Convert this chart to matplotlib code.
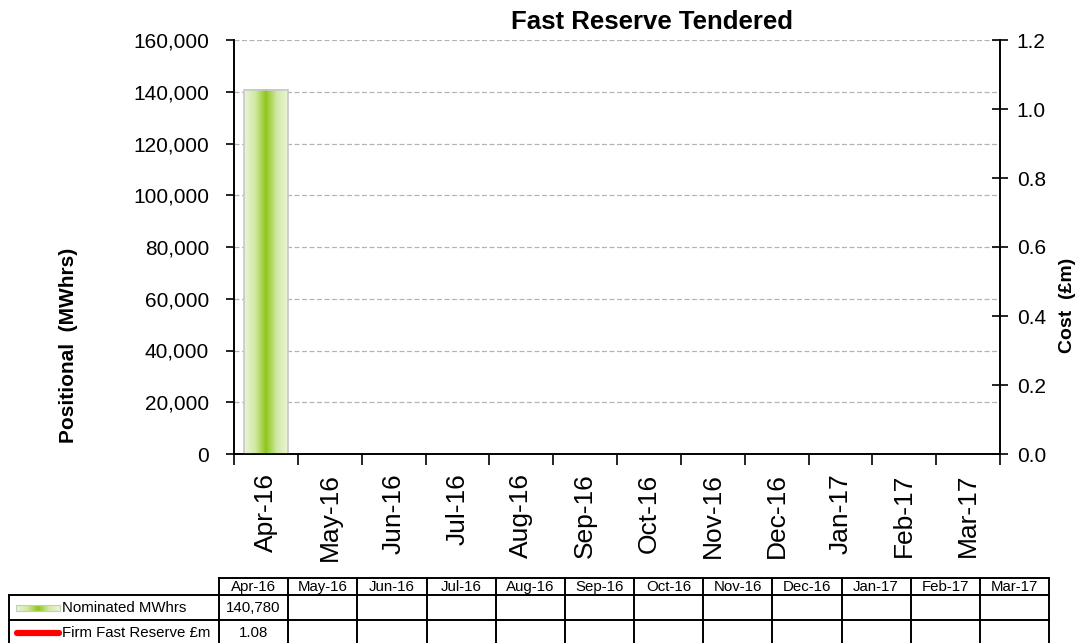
import matplotlib.pyplot as plt
import numpy as np
from matplotlib.colors import LinearSegmentedColormap
from matplotlib.ticker import FuncFormatter

plt.rcParams['font.family'] = ['Liberation Sans', 'DejaVu Sans']

# data
months = ['Apr-16', 'May-16', 'Jun-16', 'Jul-16', 'Aug-16', 'Sep-16',
          'Oct-16', 'Nov-16', 'Dec-16', 'Jan-17', 'Feb-17', 'Mar-17']
nominated = [140780] + [None] * 11
firm_cost = [1.08] + [None] * 11
row_names = ['Nominated MWhrs', 'Firm Fast Reserve £m']

W, H = 1076, 643
fig = plt.figure(figsize=(W / 100, H / 100), dpi=100)
ax = fig.add_axes([234 / W, 1 - 454 / H, (1000 - 234) / W, (454 - 40) / H])
ax2 = ax.twinx()

green = LinearSegmentedColormap.from_list(
    'g', ['#ebf5d6', '#d2e9a6', '#8fc61a', '#d2e9a6', '#ebf5d6'])
grad = np.linspace(0, 1, 200).reshape(1, -1)
bw = 0.68
x = np.arange(len(months))
for i, v in enumerate(nominated):
    if v is None:
        continue
    ax.imshow(grad, cmap=green, aspect='auto', zorder=2,
              extent=[i - bw / 2, i + bw / 2, 0, v], interpolation='bilinear')
    ax.bar(i, v, width=bw, facecolor='none', edgecolor='#c8c8c8',
           linewidth=1.2, zorder=3)

# only one month has a cost, so the line shows nothing (as in the original)
cost = np.array([np.nan if c is None else c for c in firm_cost])
ax2.plot(x, cost, color='red', linewidth=3)

ax.set_xlim(-0.5, len(months) - 0.5)
ax.set_ylim(0, 160000)
ax.set_yticks(np.arange(0, 160001, 20000))
ax.yaxis.set_major_formatter(FuncFormatter(lambda v, p: f'{int(v):,}'))
ax2.set_ylim(0, 1.2)
ax2.set_yticks(np.arange(0, 1.21, 0.2))
ax2.yaxis.set_major_formatter(FuncFormatter(lambda v, p: f'{v:.1f}'))

ax.set_xticks(x)
ax.set_xticklabels(months, rotation=90, fontsize=19)
ax.set_xticks(np.arange(-0.5, len(months), 1), minor=True)
ax.tick_params(axis='x', which='major', length=0, pad=14)
ax.tick_params(axis='x', which='minor', length=8, width=1.2, direction='out')
ax.tick_params(axis='y', length=6, width=1.2, direction='out', labelsize=15, pad=12)
ax2.tick_params(axis='y', length=12, width=1.2, direction='inout', labelsize=15, pad=6)

ax.set_axisbelow(True)
ax.grid(axis='y', color='#b4b4b4', linestyle=(0, (4, 2)), linewidth=0.9)
for a in (ax, ax2):
    a.spines['top'].set_visible(False)
    for s in ('left', 'right', 'bottom'):
        a.spines[s].set_linewidth(1.2)

fig.text(69 / W, 1 - 345 / H, 'Positional  (MWhrs)', rotation=90, fontsize=15,
         fontweight='bold', ha='center', va='center')
fig.text(1067 / W, 1 - 305 / H, 'Cost  (£m)', rotation=90, fontsize=14,
         fontweight='bold', ha='center', va='center')
fig.text(652 / W, 1 - 22 / H, 'Fast Reserve Tendered', fontsize=18.5,
         fontweight='bold', ha='center', va='center')

# data table under the chart
tab = fig.add_axes([0, 0, 1, 1], zorder=-1)
tab.set_xlim(0, W)
tab.set_ylim(H, 0)
tab.axis('off')
x0, cw, lx = 219, (1049 - 219) / 12, 9
rows_y = [578, 595, 620, 646]
lw = 1.4
fs = 10.8
tab.plot([x0, 1049], [rows_y[0]] * 2, color='black', lw=lw)
for yy in rows_y[1:]:
    tab.plot([lx, 1049], [yy] * 2, color='black', lw=lw)
tab.plot([lx, lx], [rows_y[1], rows_y[3]], color='black', lw=lw)
for j in range(13):
    tab.plot([x0 + j * cw] * 2, [rows_y[0], rows_y[3]], color='black', lw=lw)
ry0 = 587
ry1 = 608
ry2 = 633
for j, m in enumerate(months):
    cx = x0 + (j + 0.5) * cw
    tab.text(cx, ry0, m, ha='center', va='center', fontsize=fs)
    if nominated[j] is not None:
        tab.text(cx, ry1, f'{nominated[j]:,}', ha='center', va='center', fontsize=fs)
    if firm_cost[j] is not None:
        tab.text(cx, ry2, f'{firm_cost[j]:.2f}', ha='center', va='center', fontsize=fs)
sw = np.linspace(0, 1, 100).reshape(1, -1)
tab.imshow(sw, cmap=green, aspect='auto', extent=[16, 60, ry1 + 3, ry1 - 3])
tab.add_patch(plt.Rectangle((16, ry1 - 3), 44, 6, fill=False, ec='#c8c8c8', lw=0.8))
tab.plot([17, 59], [ry2, ry2], color='red', lw=4.5, solid_capstyle='round')
tab.set_xlim(0, W)
tab.set_ylim(H, 0)
tab.text(62, ry1, row_names[0], ha='left', va='center', fontsize=fs)
tab.text(62, ry2, row_names[1], ha='left', va='center', fontsize=fs)

fig.savefig('out.png', dpi=100)
